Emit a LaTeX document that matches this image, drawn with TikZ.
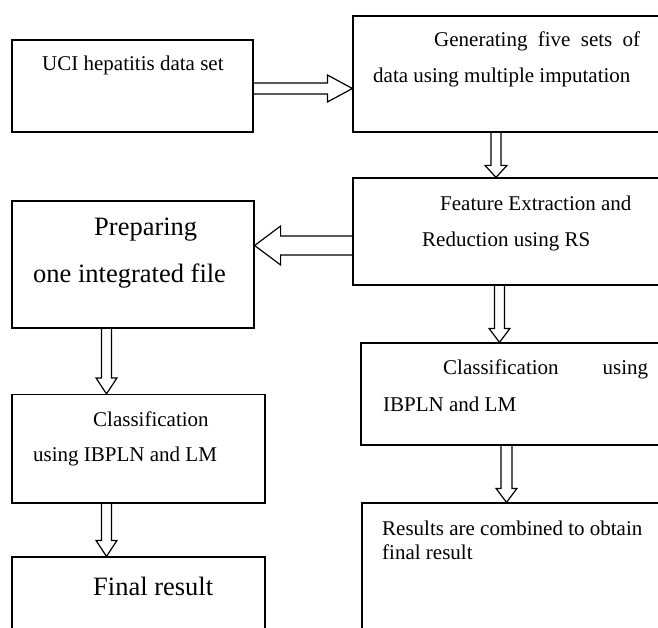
\documentclass[tikz,border=0pt]{standalone}
\usepackage{fontspec}
\setmainfont{Liberation Serif}
\usetikzlibrary{calc}

\tikzset{
  box/.style={draw, line width=1.2pt, inner sep=0pt},
  smalltxt/.style={anchor=base west, inner sep=0pt, font=\fontsize{21}{25}\selectfont},
  bigtxt/.style={anchor=base west, inner sep=0pt, font=\fontsize{26.5}{31}\selectfont},
  blockarrow/.style n args={3}{draw, line width=1.2pt, to path={
    ($(\tikztostart)!#1!90:(\tikztotarget)$)
    -- ($(\tikztotarget)!#3!(\tikztostart)!#1!90:(\tikztotarget)$)
    -- ($(\tikztotarget)!#3!(\tikztostart)!#2!90:(\tikztotarget)$)
    -- (\tikztotarget)
    -- ($(\tikztotarget)!#3!(\tikztostart)!#2!-90:(\tikztotarget)$)
    -- ($(\tikztotarget)!#3!(\tikztostart)!#1!-90:(\tikztotarget)$)
    -- ($(\tikztostart)!#1!-90:(\tikztotarget)$)}}
}

\begin{document}
\begin{tikzpicture}[x=1pt, y=-1pt]
\useasboundingbox (0,0) rectangle (658,628);
\node[box, minimum width=241pt, minimum height=92pt] (uci) at (132.5,86) {};
\node[box, minimum width=317pt, minimum height=116pt] (gen) at (511.5,74) {};
\node[box, minimum width=317pt, minimum height=107pt] (feat) at (511.5,231.5) {};
\node[box, minimum width=242pt, minimum height=127pt] (prep) at (133,264.5) {};
\node[box, minimum width=309pt, minimum height=102pt] (clsR) at (515.5,394) {};
\node[box, minimum width=253pt, minimum height=108.5pt] (clsL) at (138.5,448.75) {};
\node[box, minimum width=308pt, minimum height=137pt] (res) at (516,571.5) {};
\node[box, minimum width=253pt, minimum height=83pt] (final) at (138.5,598.5) {};
%%%%%%%%%%%%%
\node[smalltxt] (ucitxt) at (42,71) {UCI hepatitis data set};
\node[smalltxt] (gentxta) at (434,47) {\makebox[206pt][s]{Generating five sets of}};
\node[smalltxt] (gentxtb) at (373,83) {data using multiple imputation};
\node[smalltxt] (feattxta) at (440,210.5) {Feature Extraction and};
\node[smalltxt] (feattxtb) at (422,247) {Reduction using RS};
\node[bigtxt] (preptxta) at (94,235.5) {Preparing};
\node[bigtxt] (preptxtb) at (33,282) {one integrated file};
\node[smalltxt] (clsRtxta) at (443,374) {\makebox[205pt][s]{Classification using}};
\node[smalltxt] (clsRtxtb) at (383,411.7) {IBPLN and LM};
\node[smalltxt] (clsLtxta) at (93,426) {Classification};
\node[smalltxt] (clsLtxtb) at (33,461.7) {using IBPLN and LM};
\node[smalltxt] (restxta) at (382,535.5) {Results are combined to obtain};
\node[smalltxt] (restxtb) at (382,559) {final result};
\node[bigtxt] (finaltxt) at (93,595) {Final result};
%%%%%%%%%%%%%
\draw[blockarrow={5.5pt}{13.5pt}{25pt}] (uci.east |- 0,88.5) to (gen.west |- 0,88.5);
\draw[blockarrow={5pt}{11pt}{12pt}] (gen.south -| 496,0) to (feat.north -| 496,0);
\draw[blockarrow={9.5pt}{19.5pt}{26pt}] (feat.west |- 0,245.5) to (prep.east |- 0,245.5);
\draw[blockarrow={5pt}{10.5pt}{14pt}] (feat.south -| 499.5,0) to (clsR.north -| 499.5,0);
\draw[blockarrow={5.5pt}{10.5pt}{14pt}] (clsR.south -| 506.5,0) to (res.north -| 506.5,0);
\draw[blockarrow={5pt}{10.5pt}{16pt}] (prep.south -| 106.5,0) to (clsL.north -| 106.5,0);
\draw[blockarrow={5pt}{10.5pt}{16pt}] (clsL.south -| 106.5,0) to (final.north -| 106.5,0);
\end{tikzpicture}
\end{document}
